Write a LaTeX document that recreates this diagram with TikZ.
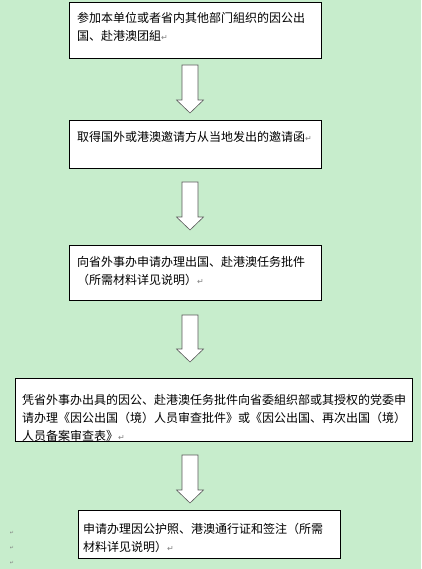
\documentclass[tikz,border=0pt]{standalone}
\usepackage{fontspec}
\newfontfamily\cjk{Noto Sans CJK SC}
\newfontfamily\marques{DejaVu Sans}
\usetikzlibrary{calc}
\definecolor{fond}{RGB}{199,237,204}
\newcommand{\retour}{{\marques\color{gray}\fontsize{8}{8}\selectfont ↵}}
\newcommand{\fleche}[2]{\draw[flechebloc] ($(#1)+(-8,0)$) -- ($(#2)+(-8,-13)$) -- ($(#2)+(-13.5,-13)$) -- (#2) -- ($(#2)+(13.5,-13)$) -- ($(#2)+(8,-13)$) -- ($(#1)+(8,0)$) -- cycle;}

\begin{document}
\begin{tikzpicture}[x=1pt,y=-1pt,
  cadre/.style={draw=black, fill=white, line width=0.9pt, inner sep=0pt, anchor=north west},
  texte/.style={anchor=north west, inner sep=0pt, align=left, font=\cjk\fontsize{12}{18}\selectfont},
  flechebloc/.style={draw=gray!70!black, fill=white, line width=0.6pt, line join=miter}]

% Fond
\fill[fond] (0,0) rectangle (421,569);
\useasboundingbox (0,0) rectangle (421,569);

% Cadres
\node[cadre, minimum width=252pt, minimum height=56pt] (c1) at (69,2) {};
\node[cadre, minimum width=252pt, minimum height=48pt] (c2) at (69,120) {};
\node[cadre, minimum width=252pt, minimum height=55pt] (c3) at (69,245) {};
\node[cadre, minimum width=397pt, minimum height=63pt] (c4) at (15,378) {};
\node[cadre, minimum width=262pt, minimum height=48pt] (c5) at (78,510) {};

% Textes
\node[texte] (t1) at (77,12) {参加本单位或者省内其他部门組织的因公出\\国、赴港澳团組\retour};
\node[texte] (t2) at (77,131) {取得国外或港澳邀请方从当地发出的邀请函\retour};
\node[texte] (t3) at (77,256) {向省外事办申请办理出国、赴港澳任务批件\\（所需材料详见说明）\retour};
\node[texte] (t4) at (22,394) {凭省外事办出具的因公、赴港澳任务批件向省委組织部或其授权的党委申\\请办理《因公出国（境）人员审查批件》或《因公出国、再次出国（境）\\人员备案审查表》\retour};
\node[texte] (t5) at (83,523) {申请办理因公护照、港澳通行证和签注（所需\\材料详见说明）\retour};

% Fleches
\coordinate (f1a) at (190,65);  \coordinate (f1b) at (190,113);
\coordinate (f2a) at (190,182); \coordinate (f2b) at (190,230);
\coordinate (f3a) at (190,315); \coordinate (f3b) at (190,362);
\coordinate (f4a) at (190,455); \coordinate (f4b) at (190,503);
\fleche{f1a}{f1b}
\fleche{f2a}{f2b}
\fleche{f3a}{f3b}
\fleche{f4a}{f4b}

% Marques de paragraphe
\foreach \y/\n in {533/m1,548/m2,563/m3}
  \node[inner sep=0pt, font=\marques\fontsize{5}{5}\selectfont, text=gray] (\n) at (12,\y) {↵};

\end{tikzpicture}
\end{document}
